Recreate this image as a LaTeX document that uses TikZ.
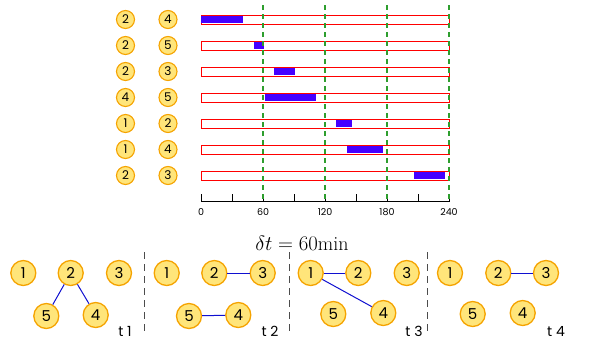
\documentclass[tikz,border=0pt]{standalone}
\usepackage{fontspec}
\setsansfont{Poppins}
\begin{document}
\begin{tikzpicture}[x=1pt,y=-1pt,
  vtx/.style={circle,draw=vorange,fill=vyellow,line width=1.1pt,minimum size=18pt,inner sep=0pt,font=\sffamily\fontsize{12}{12}\selectfont},
  gvtx/.style={circle,draw=vorange,fill=vyellow,line width=1.3pt,minimum size=25pt,inner sep=0pt,font=\sffamily\fontsize{15}{15}\selectfont},
  barbox/.style={draw=red,fill=white,line width=1pt},
  actbar/.style={fill=vblue},
  gline/.style={draw=vgreen,dashed,dash pattern=on 5pt off 4pt,line width=1.1pt},
  sep/.style={draw=black!70,dashed,dash pattern=on 7pt off 5pt,line width=0.9pt},
  edge/.style={draw=eblue,line width=1pt},
  tlab/.style={font=\sffamily\fontsize{14}{14}\selectfont,anchor=base},
  axlab/.style={font=\sffamily\fontsize{9.5}{9.5}\selectfont,anchor=base}
]
\definecolor{vorange}{HTML}{F5A300}
\definecolor{vyellow}{HTML}{FFE57A}
\definecolor{vblue}{HTML}{4400FF}
\definecolor{eblue}{HTML}{1010D0}
\definecolor{vgreen}{HTML}{2E9E2E}
\useasboundingbox (0,0) rectangle (594,359);
% time scale: x = 201 + t*248/240
\def\tx#1{201+#1*1.0333}
% rows
\foreach \i/\a/\b/\s/\e in {1/2/4/0/41, 2/2/5/51/61, 3/2/3/71/91, 4/4/5/62/111, 5/1/2/131/146, 6/1/4/141/176, 7/2/3/206/236}{
  \pgfmathsetmacro{\yy}{19.5+(\i-1)*26}
  \node[vtx] (l\i) at (125.5,\yy) {\a};
  \node[vtx] (r\i) at (168,\yy) {\b};
  \path[barbox] (201,\yy-4.5) rectangle (449,\yy+4.5);
  \path[actbar] ({\tx{\s}},\yy-3.7) rectangle ({\tx{\e}},\yy+3.7);
}
% axis
\draw[line width=0.9pt] (201,201) -- (449,201);
\foreach \t in {0,30,...,240}{
  \draw[line width=0.8pt] ({\tx{\t}},194) -- ({\tx{\t}},201.5);
}
\foreach \t in {0,60,120,180,240}{
  \node[axlab] (ax\t) at ({\tx{\t}},215.5) {\t};
}
% green dashed lines
\foreach \t in {60,120,180,240}{
  \path[gline] ({\tx{\t}},5) -- ({\tx{\t}},201);
}
\node (dt) at (302,243) {\fontsize{20}{24}\selectfont$\delta t = 60\mathrm{min}$};
% separators
\foreach \x in {144.3,289.3,427.7}{
  \path[sep] (\x,252) -- (\x,333);
}
% panel 1
\node[gvtx] (a1) at (23.3,273) {1};
\node[gvtx] (a2) at (70.7,273) {2};
\node[gvtx] (a3) at (119,273) {3};
\node[gvtx] (a5) at (46.3,316) {5};
\node[gvtx] (a4) at (95.7,315) {4};
\draw[edge] (a2) -- (a5);
\draw[edge] (a2) -- (a4);
\node[tlab] (t1) at (125,336) {t 1};
% panel 2
\node[gvtx] (b1) at (166.7,273) {1};
\node[gvtx] (b2) at (214.3,273) {2};
\node[gvtx] (b3) at (262.7,273) {3};
\node[gvtx] (b5) at (189,316) {5};
\node[gvtx] (b4) at (238.3,315) {4};
\draw[edge] (b2) -- (b3);
\draw[edge] (b5) -- (b4);
\node[tlab] (t2) at (270,336) {t 2};
% panel 3
\node[gvtx] (c1) at (310.7,273) {1};
\node[gvtx] (c2) at (358.3,273) {2};
\node[gvtx] (c3) at (406.7,273) {3};
\node[gvtx] (c5) at (333.3,314) {5};
\node[gvtx] (c4) at (383.3,313) {4};
\draw[edge] (c1) -- (c2);
\draw[edge] (c1) -- (c4);
\node[tlab] (t3) at (414,336) {t 3};
% panel 4
\node[gvtx] (d1) at (450,273) {1};
\node[gvtx] (d2) at (498.3,273) {2};
\node[gvtx] (d3) at (546,273) {3};
\node[gvtx] (d5) at (472.7,314) {5};
\node[gvtx] (d4) at (522.7,313) {4};
\draw[edge] (d2) -- (d3);
\node[tlab] (t4) at (556,336) {t 4};
\end{tikzpicture}
\end{document}
